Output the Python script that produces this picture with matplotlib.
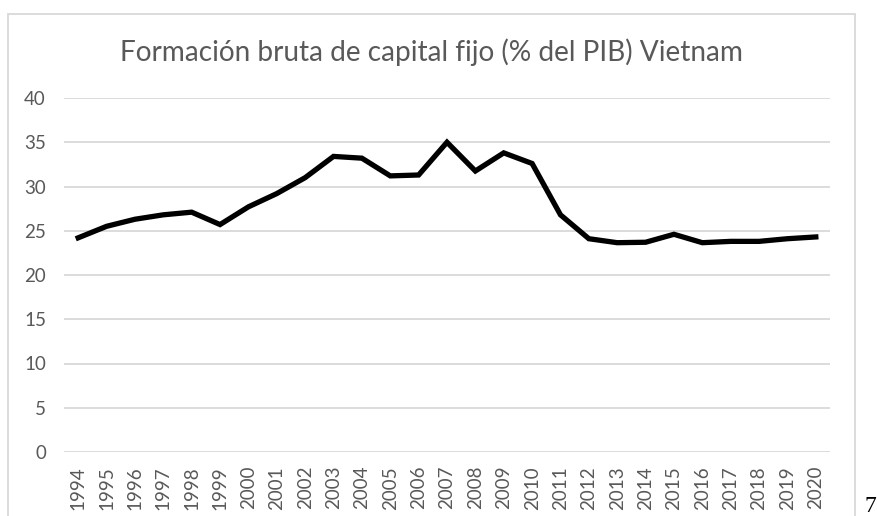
import matplotlib
matplotlib.use("Agg")
import matplotlib.pyplot as plt
from matplotlib.patches import Rectangle

# Formacion bruta de capital fijo (% del PIB), Vietnam
years = [str(y) for y in range(1994, 2021)]
values = [24.2, 25.5, 26.3, 26.8, 27.1, 25.7, 27.7, 29.2, 31.0, 33.4,
          33.2, 31.2, 31.3, 35.0, 31.75, 33.8, 32.6, 26.8, 24.1, 23.65,
          23.7, 24.6, 23.65, 23.8, 23.8, 24.1, 24.3]
yticks = [0, 5, 10, 15, 20, 25, 30, 35, 40]

W, H = 878, 516
fig = plt.figure(figsize=(W / 100, H / 100), dpi=100)
plt.rcParams['font.family'] = ['Lato', 'DejaVu Sans']

# chart frame (Excel style)
fig.patches.append(Rectangle((8 / W, -0.05), (855 - 8) / W, 1.05 - 14 / H,
                             transform=fig.transFigure, fill=False,
                             edgecolor="#d9d9d9", lw=1.3))

ax = fig.add_axes([64 / W, 1 - 452 / H, 766 / W, 354 / H])
x = list(range(len(years)))
ax.plot(x, values, color="black", lw=3.8, solid_joinstyle="miter", zorder=3)

ax.set_xlim(-0.5, len(years) - 0.5)
ax.set_ylim(0, 40)
ax.set_yticks(yticks)
ax.set_xticks(x)
ax.set_xticklabels(years, rotation=90)
ax.grid(axis="y", color="#d9d9d9", lw=1.3)
ax.set_axisbelow(True)
for s in ax.spines.values():
    s.set_visible(False)
ax.tick_params(axis="both", length=0, colors="#595959", labelsize=13.5)
ax.tick_params(axis="y", pad=13)
ax.tick_params(axis="x", pad=10)

fig.text(431.5 / W, 1 - 52 / H, "Formación bruta de capital fijo (% del PIB) Vietnam",
         ha="center", va="center", fontsize=20.2, color="#595959")

# page number next to the chart
fig.text(865 / W, 1 - 512 / H, "7", ha="left", va="baseline",
         fontsize=17, family="Liberation Serif", color="black")

fig.savefig("out.png", dpi=100)
